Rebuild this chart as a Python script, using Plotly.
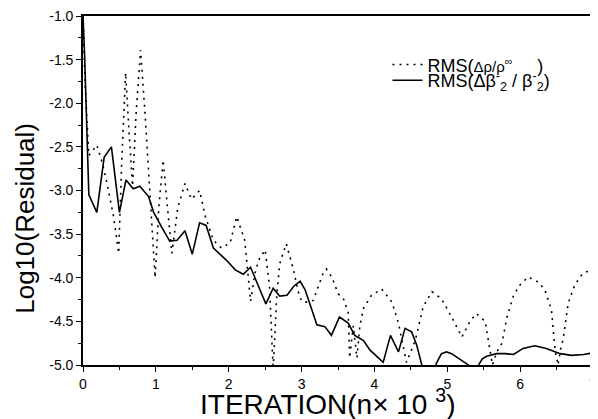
import plotly.graph_objects as go

# ---- data ----
rho_x = [0.0, 0.03, 0.08, 0.19, 0.27, 0.33, 0.42, 0.49, 0.53, 0.585, 0.63, 0.68, 0.73, 0.79,
         0.85, 0.92, 0.99, 1.04, 1.10, 1.16, 1.22, 1.30, 1.40, 1.49, 1.60, 1.68, 1.79, 1.90,
         2.02, 2.11, 2.22, 2.30, 2.36, 2.41, 2.50, 2.56, 2.61, 2.66, 2.70, 2.79, 2.89, 2.95,
         3.00, 3.08, 3.16, 3.23, 3.29, 3.34, 3.42, 3.50, 3.58, 3.64, 3.66, 3.71, 3.76, 3.80,
         3.85, 3.96, 4.10, 4.24, 4.33, 4.44, 4.56, 4.67, 4.79, 4.92, 5.06, 5.20, 5.31, 5.40,
         5.52, 5.59, 5.62, 5.68, 5.75, 5.82, 5.91, 6.00, 6.11, 6.25, 6.34, 6.43, 6.48, 6.52,
         6.56, 6.59, 6.66, 6.75, 6.86, 7.00]
rho_y = [-1.0, -1.8, -2.6, -2.48, -2.7, -2.92, -3.3, -3.72, -2.7, -1.65, -2.3, -2.95, -2.1, -1.39,
         -2.1, -3.0, -4.0, -3.2, -2.65, -3.2, -3.72, -3.2, -2.92, -3.1, -3.0, -3.3, -3.57, -3.66,
         -3.6, -3.3, -3.57, -4.27, -3.95, -3.8, -3.68, -4.1, -5.05, -4.2, -3.84, -3.61, -3.91, -4.15,
         -4.27, -4.28, -4.26, -4.1, -3.96, -3.9, -4.0, -4.18, -4.25, -4.4, -4.92, -4.55, -4.92, -4.55,
         -4.35, -4.2, -4.13, -4.28, -4.52, -4.97, -4.72, -4.33, -4.16, -4.24, -4.45, -4.68, -4.5, -4.41,
         -4.5, -4.85, -5.0, -4.85, -4.75, -4.45, -4.2, -4.08, -3.99, -4.05, -4.14, -4.37, -4.83, -5.0,
         -4.8, -4.71, -4.29, -4.08, -3.95, -3.9]

beta_x = [0.0, 0.02, 0.08, 0.19, 0.29, 0.39, 0.50, 0.59, 0.69, 0.78, 0.90, 0.97, 1.08, 1.19,
          1.29, 1.40, 1.50, 1.60, 1.69, 1.79, 1.97, 2.09, 2.20, 2.30, 2.41, 2.51, 2.61, 2.70,
          2.80, 2.89, 2.98, 3.05, 3.21, 3.32, 3.41, 3.52, 3.64, 3.73, 3.85, 3.94, 4.12, 4.22,
          4.33, 4.42, 4.51, 4.58, 4.65, 4.72, 4.78, 4.85, 4.92, 4.99, 5.06, 5.13, 5.22, 5.29,
          5.36, 5.43, 5.48, 5.54, 5.68, 5.80, 5.91, 6.04, 6.20, 6.36, 6.55, 6.71, 6.87, 7.00]
beta_y = [-1.0, -1.4, -3.05, -3.25, -2.62, -2.5, -3.25, -2.88, -2.98, -2.95, -3.07, -3.25, -3.42, -3.58,
          -3.57, -3.46, -3.73, -3.37, -3.40, -3.66, -3.80, -3.91, -3.96, -3.88, -4.10, -4.30, -4.12, -4.21,
          -4.20, -4.10, -4.04, -4.14, -4.54, -4.56, -4.66, -4.45, -4.52, -4.66, -4.72, -4.83, -4.97, -4.66,
          -4.85, -4.58, -4.62, -4.77, -5.0, -5.3, -5.3, -4.98, -4.87, -4.85, -4.87, -4.91, -4.96, -5.0,
          -5.15, -5.0, -4.93, -4.90, -4.87, -4.87, -4.88, -4.81, -4.78, -4.81, -4.87, -4.89, -4.88, -4.86]

y_tickvals = [-1.0, -1.5, -2.0, -2.5, -3.0, -3.5, -4.0, -4.5, -5.0]
y_ticktext = ["-1.0", "-1.5", "-2.0", "-2.5", "-3.0", "-3.5", "-4.0", "-4.5", "-5.0"]
y_minorvals = [-1.25, -1.75, -2.25, -2.75, -3.25, -3.75, -4.25, -4.75]
x_tickvals = [0, 1, 2, 3, 4, 5, 6, 7]
x_ticktext = ["0", "1", "2", "3", "4", "5", "6", "7"]

name_rho = 'RMS(<span style="font-size:15px">Δρ/ρ<sup>∞</sup></span>\u00a0\u00a0\u00a0\u00a0\u00a0)'
name_beta = 'RMS(Δβ<sup>-</sup><sub>2</sub> / β<sup>-</sup><sub>2</sub>)'
x_title = "ITERATION(n× 10 <sup>3</sup>)"
y_title = "Log10(Residual)"

FONT = "Liberation Sans, Arial, sans-serif"

fig = go.Figure()
fig.add_trace(go.Scatter(x=rho_x, y=rho_y, mode="lines", name=name_rho, legend="legend",
                         line=dict(color="black", width=1.6, dash="2px,5px")))
fig.add_trace(go.Scatter(x=beta_x, y=beta_y, mode="lines", name=name_beta, legend="legend2",
                         line=dict(color="black", width=1.6)))

axis_common = dict(showline=True, linecolor="black", linewidth=1.6, mirror=True,
                   ticks="outside", ticklen=5, tickwidth=1.3, tickcolor="black",
                   showgrid=False, zeroline=False, automargin=False,
                   ticklabeloverflow="allow",
                   tickfont=dict(family=FONT, size=14, color="black"))

fig.update_xaxes(range=[0, 7], tickvals=x_tickvals, ticktext=x_ticktext,
                 minor=dict(ticks="outside", ticklen=3, tickwidth=1.2, tickcolor="black", dtick=0.5),
                 **axis_common)
fig.update_yaxes(range=[-5, -1], tickvals=y_tickvals, ticktext=y_ticktext,
                 minor=dict(ticks="outside", ticklen=3, tickwidth=1.2, tickcolor="black",
                            tickvals=y_minorvals),
                 **axis_common)

leg_common = dict(xanchor="left", yanchor="middle", bgcolor="rgba(0,0,0,0)", borderwidth=0,
                  font=dict(family=FONT, size=18, color="black"), itemwidth=30)

# the page body has an 8px margin, so the figure is 8px smaller than the window
fig.update_layout(
    width=590, height=411,
    margin=dict(l=75, r=5, t=8, b=54),
    paper_bgcolor="white", plot_bgcolor="white",
    font=dict(family=FONT, color="black"),
    showlegend=True,
    legend=dict(x=0.597, y=0.86, **leg_common),
    legend2=dict(x=0.597, y=0.815, **leg_common),
    annotations=[
        dict(text=x_title, xref="paper", yref="paper", x=0.48, y=-0.105,
             xanchor="center", yanchor="middle", showarrow=False,
             font=dict(family=FONT, size=28, color="black")),
        dict(text=y_title, xref="paper", yref="paper", x=-0.113, y=0.42,
             xanchor="center", yanchor="middle", textangle=-90, showarrow=False,
             font=dict(family=FONT, size=26, color="black")),
    ],
)

fig.write_html("out.html")
